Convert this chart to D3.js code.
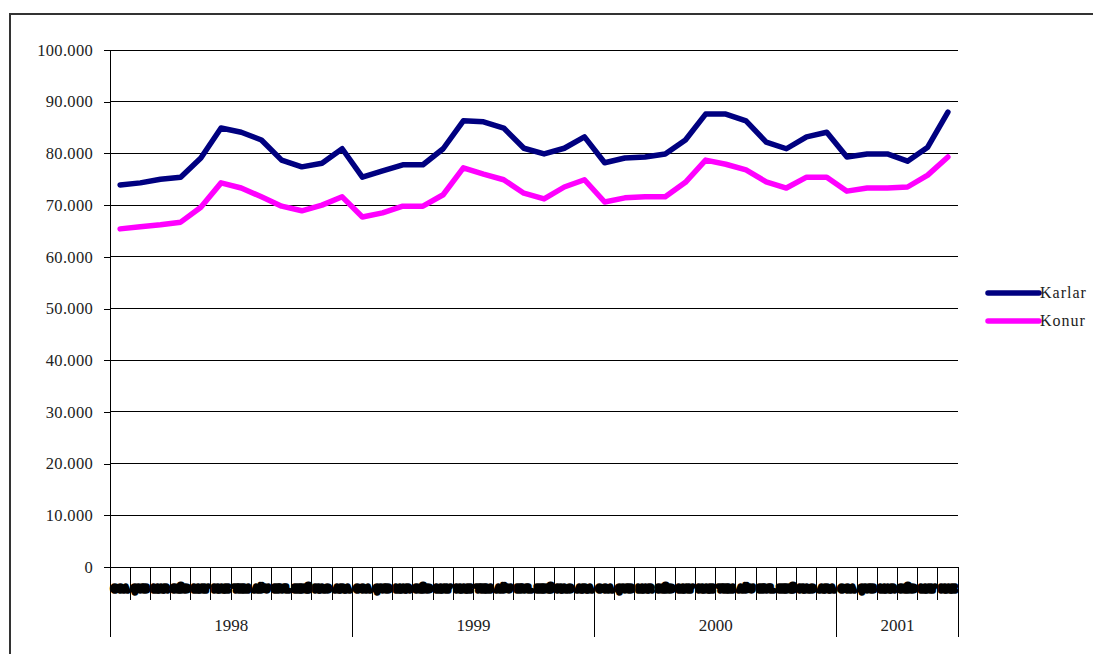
<!DOCTYPE html>
<html><head><meta charset="utf-8">
<script src="https://cdn.jsdelivr.net/npm/d3@7/dist/d3.min.js"></script>
<style>body{margin:0;background:#fff}svg{display:block}</style>
</head><body><svg id="c" width="1093" height="654"></svg>
<script>
const years = ["1998","1999","2000","2001"];
const monthsPerYear = [12,12,12,6];
const monthNames = ["OCA","ŞUB","MAR","NİS","MAY","HAZ","TEM","AĞU","EYL","EKİ","KAS","ARA"];
const karlar = [73.9,74.3,75.0,75.4,79.1,84.9,84.1,82.6,78.7,77.4,78.1,80.9,
  75.4,76.6,77.8,77.8,80.9,86.3,86.1,84.9,81.0,79.9,81.0,83.2,
  78.2,79.1,79.3,79.9,82.6,87.6,87.6,86.3,82.2,80.9,83.2,84.1,
  79.3,79.9,79.9,78.5,81.2,88.0].map(v=>v*1000);
const konur = [65.4,65.8,66.2,66.7,69.6,74.3,73.3,71.6,69.8,68.9,70.0,71.6,
  67.7,68.5,69.8,69.8,72.0,77.2,76.0,74.9,72.3,71.2,73.5,74.9,
  70.6,71.4,71.6,71.6,74.4,78.7,77.9,76.8,74.5,73.3,75.4,75.4,
  72.7,73.3,73.3,73.5,75.8,79.3].map(v=>v*1000);
const yTicks = [0,10000,20000,30000,40000,50000,60000,70000,80000,90000,100000];
const seriesNames = ["Karlar","Konur"];
const seriesColors = ["#000080","#ff00ff"];

const months = [];
years.forEach((y,yi)=>{for(let m=0;m<monthsPerYear[yi];m++) months.push({key:y+"-"+m, year:y, m});});

const svg = d3.select("#c");
const L=110, R=958, T=50, B=567;
const x = d3.scaleBand().domain(months.map(d=>d.key)).range([L,R]).padding(0);
const y = d3.scaleLinear().domain([0,100000]).range([B,T]);
const fmt = v => v===0 ? "0" : d3.format(",")(v).replace(/,/g,".");

// frame
svg.append("rect").attr("x",10).attr("y",14).attr("width",1100).attr("height",700)
  .attr("fill","none").attr("stroke","#333").attr("stroke-width",2);

// gridlines
svg.append("g").selectAll("line").data(yTicks.filter(d=>d>0)).join("line")
  .attr("x1",L).attr("x2",R).attr("y1",d=>y(d)).attr("y2",d=>y(d))
  .attr("stroke","#000").attr("stroke-width",1).attr("shape-rendering","crispEdges");

// y axis
const ya = svg.append("g").attr("transform",`translate(${L},0)`)
  .call(d3.axisLeft(y).tickValues(yTicks).tickFormat(fmt).tickSize(6).tickSizeOuter(0));
ya.select(".domain").attr("stroke","#000").attr("shape-rendering","crispEdges");
ya.selectAll(".tick line").attr("stroke","#000").attr("shape-rendering","crispEdges");
ya.selectAll("text").attr("font-family","Liberation Serif").attr("font-size",16.5)
  .attr("letter-spacing",0.3).attr("fill","#222").attr("x",-17);

// x axis line
svg.append("line").attr("x1",L).attr("x2",R).attr("y1",B).attr("y2",B).attr("stroke","#000").attr("shape-rendering","crispEdges");

// month ticks
const bounds = months.map(d=>x(d.key)).concat([R]);
svg.append("g").selectAll("line").data(bounds).join("line")
  .attr("x1",d=>d).attr("x2",d=>d).attr("y1",B).attr("y2",600)
  .attr("stroke","#000").attr("shape-rendering","crispEdges");

// month labels (cramped, render as dense black band)
svg.append("g").selectAll("text").data(months).join("text")
  .attr("x",d=>x(d.key)+x.bandwidth()/2).attr("y",590.5)
  .attr("text-anchor","middle").attr("font-family","Liberation Sans").attr("font-size",8)
  .attr("textLength",16).attr("lengthAdjust","spacingAndGlyphs")
  .attr("fill","#000").attr("stroke","#000").attr("stroke-width",5.5).attr("stroke-linejoin","round")
  .text(d=>monthNames[d.m]);

// year separators + labels
let acc=0; const yb=[];
years.forEach((yr,i)=>{const s=x(months[acc].key); acc+=monthsPerYear[i]; const e=acc<months.length?x(months[acc].key):R; yb.push({yr,s,e});});
svg.append("g").selectAll("line").data([L].concat(yb.map(d=>d.e))).join("line")
  .attr("x1",d=>d).attr("x2",d=>d).attr("y1",B).attr("y2",637)
  .attr("stroke","#000").attr("shape-rendering","crispEdges");
svg.append("g").selectAll("text").data(yb).join("text")
  .attr("x",d=>(d.s+d.e)/2).attr("y",631).attr("text-anchor","middle")
  .attr("font-family","Liberation Serif").attr("font-size",17).attr("fill","#222").text(d=>d.yr);

// lines
const line = d3.line().x((d,i)=>x(months[i].key)+x.bandwidth()/2).y(d=>y(d));
[karlar,konur].forEach((s,i)=>{
  svg.append("path").datum(s).attr("d",line).attr("fill","none")
    .attr("stroke",seriesColors[i]).attr("stroke-width",5.5).attr("stroke-linejoin","round").attr("stroke-linecap","round");
});

// legend
const lg = svg.append("g").selectAll("g").data(seriesNames).join("g")
  .attr("transform",(d,i)=>`translate(0,${293+i*28})`);
lg.append("line").attr("x1",988).attr("x2",1039).attr("y1",0).attr("y2",0)
  .attr("stroke",(d,i)=>seriesColors[i]).attr("stroke-width",5.5).attr("stroke-linecap","round");
lg.append("text").attr("x",1040).attr("y",5).attr("font-family","Liberation Serif").attr("font-size",16)
  .attr("letter-spacing",1).attr("fill","#222").text(d=>d);
</script></body></html>
